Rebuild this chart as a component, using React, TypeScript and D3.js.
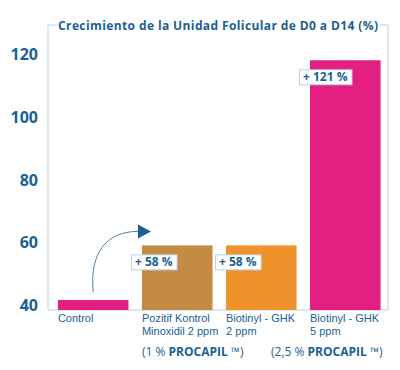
import { useEffect, useRef } from "react";
import * as d3 from "d3";

const categories = ["Control", "Pozitif Kontrol", "Biotinyl - GHK 2", "Biotinyl - GHK 5"];
const labelLines = [["Control"], ["Pozitif Kontrol", "Minoxidil 2 ppm"], ["Biotinyl - GHK", "2 ppm"], ["Biotinyl - GHK", "5 ppm"]];
const values = [41.6, 59, 59, 118];
const colors = ["#e31f82", "#c68b43", "#f0922b", "#e31f82"];
const gains = ["", "+ 58 %", "+ 58 %", "+ 121 %"];
const yTicks = [40, 60, 80, 100, 120];
const notes = [
  { col: 1, pre: "(1 % ", bold: "PROCAPIL", post: " \u2122)" },
  { col: 3, pre: "(2,5 % ", bold: "PROCAPIL", post: " \u2122)" },
];

const W = 400;
const H = 370;
const blue = "#1a5f96";
const line = "#b7d2e3";

const App = () => {
  const svgRef = useRef(null);

  useEffect(() => {
    if (!svgRef.current) return;
    const svg = d3.select(svgRef.current);
    svg.selectAll("*").remove();

    const left = 48;
    const right = 388;
    const top = 25;

    const y = d3.scaleLinear().domain([40, 120]).range([305, 54]);
    const bottom = y(38.4);
    const x = d3
      .scaleBand()
      .domain(categories)
      .range([left + 1.5, right + 1])
      .paddingInner(0.16)
      .paddingOuter(0.1);

    const font = "'Open Sans', sans-serif";

    // frame
    svg
      .append("path")
      .attr("d", `M${left + 9},${top} H${left} V${bottom} H${right} V${top} H${right - 8}`)
      .attr("fill", "none")
      .attr("stroke", line)
      .attr("stroke-width", 1);

    svg
      .append("text")
      .attr("x", 58)
      .attr("y", top + 4.5)
      .attr("textLength", 320)
      .attr("font-family", font)
      .attr("font-weight", 700)
      .attr("font-size", 12)
      .attr("fill", blue)
      .text("Crecimiento de la Unidad Folicular de D0 a D14 (%)");

    // y tick labels
    svg
      .selectAll(".tick")
      .data(yTicks)
      .join("text")
      .attr("x", 38)
      .attr("y", (d) => y(d) + 6)
      .attr("text-anchor", "end")
      .attr("font-family", font)
      .attr("font-weight", 700)
      .attr("font-size", 16)
      .attr("fill", blue)
      .text((d) => d);

    // bars
    categories.forEach((c, i) => {
      svg
        .append("rect")
        .attr("x", x(c)!)
        .attr("y", y(values[i]))
        .attr("width", x.bandwidth())
        .attr("height", bottom - y(values[i]))
        .attr("fill", colors[i]);

      labelLines[i].forEach((t, j) => {
        svg
          .append("text")
          .attr("x", x(c)!)
          .attr("y", bottom + 12 + j * 12.8)
          .attr("font-family", "'Liberation Sans', Arial, sans-serif")
          .attr("font-size", 11)
          .attr("fill", blue)
          .text(t);
      });

      if (gains[i]) {
        const g = svg
          .append("g")
          .attr("transform", `translate(${x(c)! - 11},${y(values[i]) + 9})`);
        const t = g
          .append("text")
          .attr("x", 4)
          .attr("y", 12)
          .attr("font-family", font)
          .attr("font-weight", 700)
          .attr("font-size", 12)
          .attr("fill", blue)
          .text(gains[i]);
        const w = (t.node() as SVGTextElement).getComputedTextLength() + 8;
        g.insert("rect", "text")
          .attr("x", 0.5)
          .attr("y", 0.5)
          .attr("width", w)
          .attr("height", 15)
          .attr("fill", "white")
          .attr("stroke", line);
      }
    });

    // notes
    notes.forEach((n) => {
      const t = svg
        .append("text")
        .attr("x", x(categories[n.col])! - (n.col === 3 ? 39 : 0))
        .attr("y", bottom + 46)
        .attr("font-family", font)
        .attr("font-size", 12)
        .attr("fill", blue);
      t.append("tspan").text(n.pre);
      t.append("tspan").attr("font-weight", 700).text(n.bold);
      t.append("tspan").text(n.post);
    });

    // arrow from control to positive control
    const x0 = x(categories[0])! + x.bandwidth() / 2;
    const y0 = y(values[0]) - 8;
    const x1 = x(categories[1])! - 4;
    const y1 = y(values[1]) - 14;
    svg
      .append("path")
      .attr("d", `M${x0},${y0} C${x0 - 4},${y1 + 20} ${x1 - 30},${y1} ${x1},${y1}`)
      .attr("fill", "none")
      .attr("stroke", "#4a80ad")
      .attr("stroke-width", 1);
    svg
      .append("path")
      .attr("d", `M${x1},${y1 - 7} L${x1 + 13},${y1} L${x1},${y1 + 7} Z`)
      .attr("fill", blue);
  }, []);

  return (
    <div style={{ width: W, height: H, margin: -8 }}>
      <svg ref={svgRef} width={W} height={H} style={{ display: "block", background: "white" }} />
    </div>
  );
};

export default App;
